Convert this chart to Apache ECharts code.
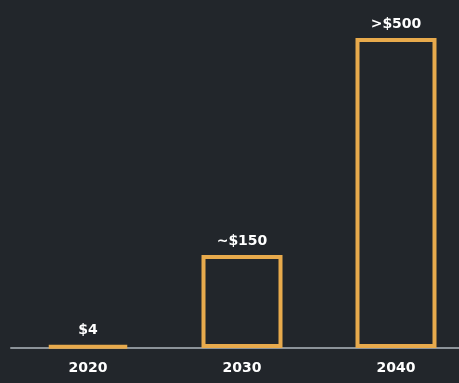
<!DOCTYPE html>
<html><head><meta charset="utf-8">
<script src="https://cdn.jsdelivr.net/npm/echarts@6/dist/echarts.min.js"></script>
<style>html,body{margin:0;padding:0;background:#22262b;}#c{width:459px;height:383px;}</style>
</head><body><div id="c"></div>
<script>
const categories = ['2020', '2030', '2040'];
const values = [4, 150, 500];
const valueLabels = ['$4', '~$150', '>$500'];

const chart = echarts.init(document.getElementById('c'));
chart.setOption({
  backgroundColor: '#22262b',
  animation: false,
  grid: { left: 11, width: 462, top: 38, bottom: 35, outerBoundsMode: 'none', containLabel: false },
  xAxis: {
    type: 'category', data: categories,
    axisLine: { lineStyle: { color: '#8c9399', width: 2 } },
    axisTick: { show: false },
    axisLabel: { color: '#ffffff', fontSize: 14, fontWeight: 'bold', fontFamily: 'DejaVu Sans', margin: 13 }
  },
  yAxis: { type: 'value', min: 0, max: 500, show: false, splitLine: { show: false } },
  series: [{
    type: 'bar', data: values, barWidth: 81,
    itemStyle: { color: '#22262b', borderColor: '#e8aa4c', borderWidth: 4 },
    label: {
      show: true, position: 'top', distance: 7, color: '#ffffff', fontSize: 14, fontWeight: 'bold', fontFamily: 'DejaVu Sans',
      formatter: p => valueLabels[p.dataIndex]
    }
  }]
});
</script></body></html>
